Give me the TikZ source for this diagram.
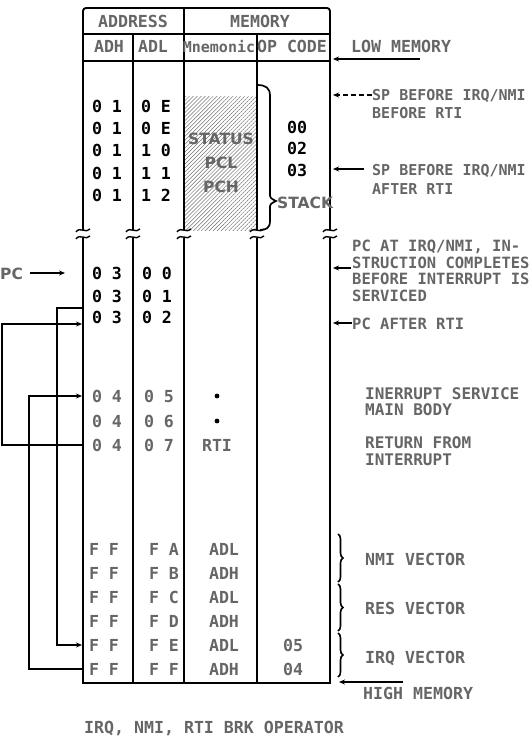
\documentclass[tikz,border=0pt]{standalone}
\usepackage{fontspec}
\newfontfamily\dm{DejaVu Sans Mono}
\newfontfamily\ds{DejaVu Sans}
\usetikzlibrary{arrows.meta,patterns.meta,decorations.pathreplacing}
\colorlet{txt}{black!60}
\tikzset{
  every node/.style={inner sep=0pt},
  mtext/.style={font=\dm\bfseries\fontsize{#1}{#1}\selectfont, text=txt, anchor=base},
  mtext/.default=16.6,
  ltext/.style={mtext=#1, anchor=base west},
  ltext/.default=15,
  btext/.style={font=\dm\bfseries\fontsize{16.6}{18}\selectfont, text=black, anchor=base},
  stext/.style={font=\ds\bfseries\fontsize{15.5}{15.5}\selectfont, text=txt, anchor=base},
  tbl/.style={line width=1.9pt},
  arr/.style={line width=1.5pt, -{Stealth[length=6pt,width=5pt]}},
  conn/.style={line width=1.7pt},
  brk/.style={line width=1.4pt},
  vbrace/.style={line width=1.6pt, decorate, decoration={brace, amplitude=5pt}},
}
\newcommand{\brkmark}[1]{%
  \draw[brk] (#1-7,232) .. controls (#1-3,226) and (#1+3,234) .. (#1+7,229);
  \draw[brk] (#1-7,239) .. controls (#1-3,233) and (#1+3,241) .. (#1+7,236);}
\begin{document}
\begin{tikzpicture}[x=1pt,y=-1pt]
\useasboundingbox (0,0) rectangle (532,741);

% ---------- table frame ----------
\fill[pattern={Lines[angle=45,distance=2.8pt,line width=0.5pt]}, pattern color=black!55] (184,97) rectangle (257,230);
\draw[tbl, rounded corners=3pt] (83,230) -- (83,8) -- (330,8) -- (330,230);
\draw[tbl] (83,34) -- (330,34);
\draw[tbl] (83,61) -- (330,61);
\draw[tbl] (133,34) -- (133,230);
\draw[tbl] (184,8) -- (184,230);
\draw[tbl] (257,34) -- (257,230);
\draw[tbl] (83,238) -- (83,683) -- (330,683) -- (330,238);
\draw[tbl] (133,238) -- (133,683);
\draw[tbl] (184,238) -- (184,683);
\draw[tbl] (257,238) -- (257,683);
\brkmark{83}\brkmark{133}\brkmark{184}\brkmark{257}\brkmark{330}

% ---------- headers ----------
\node[mtext] (hAddr) at (133,28) {ADDRESS};
\node[mtext] (hMem) at (260,28) {MEMORY};
\node[mtext] (hAdh) at (109,53) {ADH};
\node[mtext] (hAdl) at (153,53) {ADL};
\node[mtext=15] (hMne) at (219,53) {Mnemonic};
\node[mtext] (hOp) at (292,53) {OP CODE};

% ---------- stack ----------
\node[btext] (s1h) at (107,113) {0 1};
\node[btext] (s1l) at (156,113) {0 E};
\node[btext] (s2h) at (107,135) {0 1};
\node[btext] (s2l) at (156,135) {0 E};
\node[btext] (s3h) at (107,157) {0 1};
\node[btext] (s3l) at (156,157) {1 0};
\node[btext] (s4h) at (107,179) {0 1};
\node[btext] (s4l) at (156,179) {1 1};
\node[btext] (s5h) at (107,201) {0 1};
\node[btext] (s5l) at (156,201) {1 2};
\node[btext] (op1) at (297,133) {00};
\node[btext] (op2) at (297,154) {02};
\node[btext] (op3) at (297,176) {03};
\node[stext] (stat) at (221,144) {STATUS};
\node[stext] (pcl) at (221,168) {PCL};
\node[stext] (pch) at (221,192) {PCH};
\draw[line width=1.7pt] (257,85) .. controls (266,85) and (270,88) .. (270,96) -- (270,193)
  .. controls (270,198) .. (276,201) .. controls (270,204) .. (270,209) -- (270,221)
  .. controls (270,228) and (266,230) .. (260,230);
\node[stext, anchor=base west] (stack) at (277,208) {STACK};

% ---------- program rows ----------
\node[btext] (p1h) at (107,279) {0 3};
\node[btext] (p1l) at (157,279) {0 0};
\node[btext] (p2h) at (107,302) {0 3};
\node[btext] (p2l) at (157,302) {0 1};
\node[btext] (p3h) at (107,323) {0 3};
\node[btext] (p3l) at (157,323) {0 2};
\node[stext, anchor=base west] (pc) at (0,279) {PC};
\coordinate (pcTo) at (65,273);
\draw[arr] (pc.east |- pcTo) ++(7,0) coordinate (pcFrom) -- (pcTo);

\node[mtext] (r1h) at (107,402) {0 4};
\node[mtext] (r1l) at (159,402) {0 5};
\node[mtext] (r2h) at (107,427) {0 4};
\node[mtext] (r2l) at (159,427) {0 6};
\node[mtext] (r3h) at (107,451) {0 4};
\node[mtext] (r3l) at (159,451) {0 7};
\fill (217,396) circle (2.4pt);
\fill (217,421) circle (2.4pt);
\node[mtext] (rti) at (217,451) {RTI};

% ---------- vectors ----------
\foreach \yy/\lo/\mn [count=\i] in {555/A/ADL,579/B/ADH,603/C/ADL,627/D/ADH,651/E/ADL,675/F/ADH}{
  \node[mtext] (vh\i) at (104,\yy) {F F};
  \node[mtext] (vl\i) at (164,\yy) {F \lo};
  \node[mtext] (vm\i) at (224,\yy) {\mn};
}
\node[mtext] (vo5) at (293,651) {05};
\node[mtext] (vo6) at (293,675) {04};

% ---------- left connectors ----------
\coordinate (aS) at (83,308);
\coordinate (aT) at (82,645);
\draw[conn] (aS) -- (57,308) -- (57,645) -- (63,645);
\draw[arr] (63,645) -- (aT);
\coordinate (bS) at (83,445);
\coordinate (bT) at (82,324);
\draw[conn] (bS) -- (2,445) -- (2,324) -- (63,324);
\draw[arr] (63,324) -- (bT);
\coordinate (cS) at (83,669);
\coordinate (cT) at (82,396);
\draw[conn] (cS) -- (29,669) -- (29,396) -- (63,396);
\draw[arr] (63,396) -- (cT);

% ---------- right labels ----------
\node[ltext=16.6] (low) at (351,53) {LOW MEMORY};
\coordinate (lowA) at (420,59);
\coordinate (lowB) at (333,59);
\draw[arr] (lowA) -- (lowB);

\node[ltext] (sp1a) at (372,101) {SP BEFORE IRQ/NMI};
\node[ltext] (sp1b) at (372,119) {BEFORE RTI};
\coordinate (sp1B) at (333,95);
\draw[arr, dash pattern=on 5pt off 3pt] (sp1a.west |- sp1B) -- (sp1B);

\node[ltext] (sp2a) at (372,175) {SP BEFORE IRQ/NMI};
\node[ltext] (sp2b) at (372,194) {AFTER RTI};
\coordinate (sp2A) at (364,169);
\coordinate (sp2B) at (333,169);
\draw[arr] (sp2A) -- (sp2B);

\node[ltext=15.5] (pca) at (352,251) {PC AT IRQ/NMI, IN-};
\node[ltext=15.5] (pcb) at (352,268) {STRUCTION COMPLETES};
\node[ltext=15.5] (pcc) at (352,284) {BEFORE INTERRUPT IS};
\node[ltext=15.5] (pcd) at (352,301) {SERVICED};
\coordinate (pcatA) at (351,268);
\coordinate (pcatB) at (333,268);
\draw[arr] (pcatA) -- (pcatB);

\node[ltext=15.5] (pcaft) at (352,329) {PC AFTER RTI};
\coordinate (pcaftB) at (333,323);
\draw[arr] (pcaft.west |- pcaftB) -- (pcaftB);

\node[ltext=16] (isa) at (365,399) {INERRUPT SERVICE};
\node[ltext=16] (isb) at (365,415) {MAIN BODY};
\node[ltext=16] (rfa) at (365,448) {RETURN FROM};
\node[ltext=16] (rfb) at (365,465) {INTERRUPT};

\draw[vbrace] (338,534) -- (338,582);
\draw[vbrace] (338,584) -- (338,631);
\draw[vbrace] (338,633) -- (338,677);
\node[ltext=16.6] (nmi) at (365,565) {NMI VECTOR};
\node[ltext=16.6] (res) at (365,614) {RES VECTOR};
\node[ltext=16.6] (irq) at (365,663) {IRQ VECTOR};

\node[ltext=16.6] (high) at (363,699) {HIGH MEMORY};
\coordinate (hiA) at (403,682);
\coordinate (hiB) at (339,682);
\draw[arr] (hiA) -- (hiB);

% ---------- title ----------
\node[mtext] (title) at (214,733) {IRQ, NMI, RTI BRK OPERATOR};
\end{tikzpicture}
\end{document}
